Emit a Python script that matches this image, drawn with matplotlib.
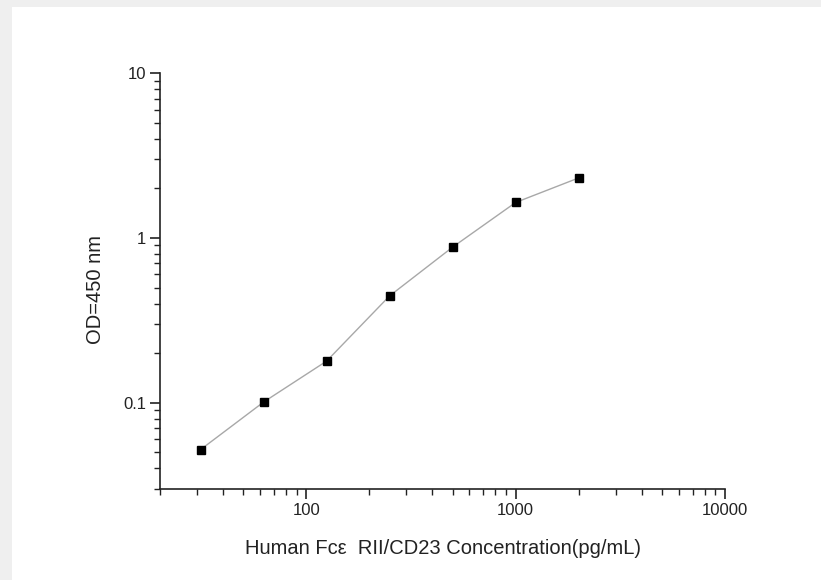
import matplotlib
matplotlib.use("Agg")
import matplotlib.pyplot as plt
from matplotlib.patches import Rectangle
from matplotlib.ticker import LogLocator, FixedLocator, FixedFormatter, NullFormatter

plt.rcParams['font.family'] = ['Liberation Sans', 'DejaVu Sans']

concentration = [31.25, 62.5, 125, 250, 500, 1000, 2000]
od450 = [0.052, 0.101, 0.179, 0.445, 0.879, 1.64, 2.31]

x_ticks = [100, 1000, 10000]
x_tick_labels = ["100", "1000", "10000"]
y_ticks = [0.1, 1, 10]
y_tick_labels = ["0.1", "1", "10"]

W, H = 821, 580
fig = plt.figure(figsize=(W / 100, H / 100), dpi=100)
fig.patch.set_facecolor('#efefef')
bg = Rectangle((12 / W, 0), 1 - 12 / W, 1 - 7 / H,
               transform=fig.transFigure, facecolor='white',
               edgecolor='none', zorder=-10)
fig.add_artist(bg)

ax = fig.add_axes([160 / W, 1 - 489 / H, (725 - 160) / W, (489 - 73) / H])
ax.set_zorder(5)
ax.set_facecolor('none')
ax.set_xscale('log')
ax.set_yscale('log')
ax.set_xlim(20, 10000)
ax.set_ylim(0.03, 10)

ax.plot(concentration, od450, color='#a8a8a8', linewidth=1.0, zorder=2)
ax.plot(concentration, od450, linestyle='none', marker='s', markersize=6,
        markerfacecolor='black', markeredgecolor='black', zorder=3)

for s in ['top', 'right']:
    ax.spines[s].set_visible(False)
for s in ['left', 'bottom']:
    ax.spines[s].set_linewidth(1.2)
    ax.spines[s].set_color('#222222')

ax.xaxis.set_major_locator(FixedLocator(x_ticks))
ax.xaxis.set_major_formatter(FixedFormatter(x_tick_labels))
ax.yaxis.set_major_locator(FixedLocator(y_ticks))
ax.yaxis.set_major_formatter(FixedFormatter(y_tick_labels))
ax.xaxis.set_minor_locator(LogLocator(base=10, subs=range(2, 10), numticks=20))
ax.yaxis.set_minor_locator(LogLocator(base=10, subs=range(2, 10), numticks=20))
ax.xaxis.set_minor_formatter(NullFormatter())
ax.yaxis.set_minor_formatter(NullFormatter())

ax.tick_params(which='major', direction='out', length=7, width=1.2,
               colors='#222222', labelsize=12, labelcolor='#222222', pad=3)
ax.tick_params(which='minor', direction='out', length=4, width=1.0,
               colors='#222222')

ax.set_xlabel("Human Fc\u03b5  RII/CD23 Concentration(pg/mL)", fontsize=14.5,
              color='#222222', labelpad=15)
ax.set_ylabel("OD=450 nm", fontsize=14.5, color='#222222')
ax.yaxis.set_label_coords(-0.097, 0.48)

fig.savefig("out.png", dpi=100, facecolor=fig.get_facecolor())
